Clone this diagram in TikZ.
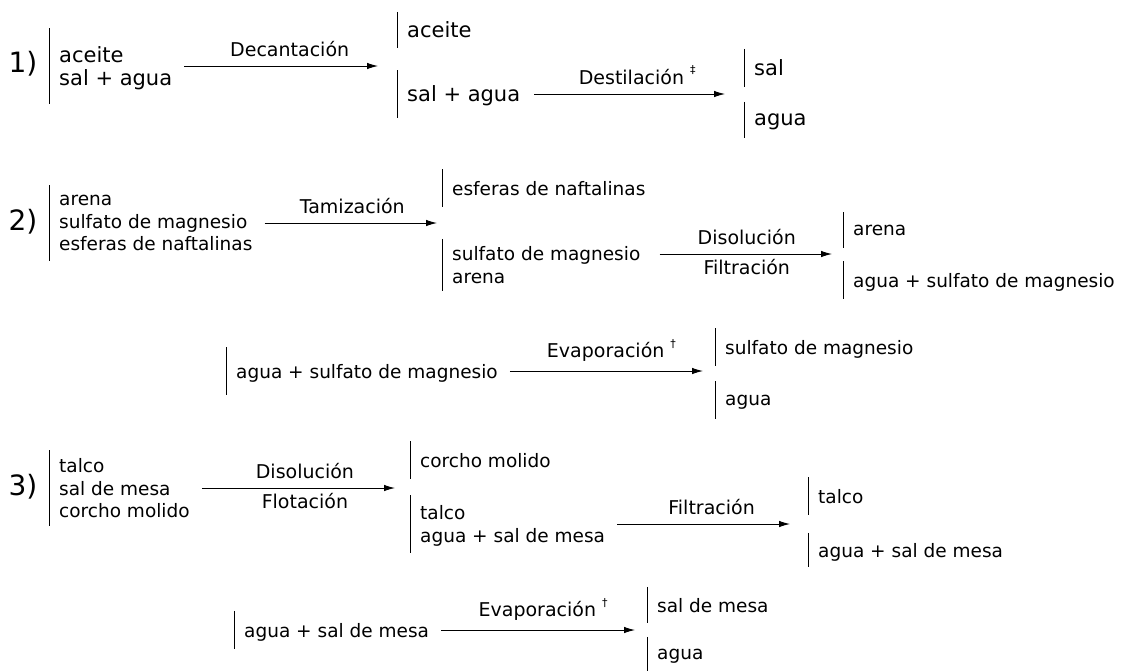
\documentclass[tikz,border=0pt]{standalone}
\usepackage{fontspec}
\setmainfont{DejaVu Sans}
\usetikzlibrary{arrows.meta}

\newcommand{\supmark}[1]{\raisebox{0.55em}{\fontsize{11}{11}\selectfont #1}}

\begin{document}
\begin{tikzpicture}[
		x=1pt,y=-1pt,
		bar/.style={draw,line width=1pt},
		mix/.style={anchor=west,align=left,inner xsep=10pt,inner ysep=0pt,text depth=0pt,
			font=\fontsize{18.5}{22.5}\selectfont,
			append after command={(\tikzlastnode.north west) edge[bar] (\tikzlastnode.south west)}},
		big/.style={font=\fontsize{21}{23}\selectfont},
		num/.style={font=\fontsize{28}{28}\selectfont},
		lbl/.style={font=\fontsize{19}{20}\selectfont,inner sep=2pt},
		up/.style={lbl,midway,above=7pt},
		down/.style={lbl,midway,below=3pt},
		arrow/.style={-{Latex[length=11pt,width=6.5pt]},line width=0.9pt,shorten <=2pt}
		]
		\useasboundingbox (0,0) rectangle (1124,670);
		% 1) aceite, sal y agua
		\node[num] (n1) at (23,64) {1)};
		\node[mix,big,minimum height=75pt] (m1) at (49,66) {aceite\\sal + agua};
		\node[mix,big,minimum height=36pt] (a1) at (397,30) {aceite};
		\node[mix,big,minimum height=47pt] (b1) at (397,94) {sal + agua};
		\node[mix,big,minimum height=38pt] (c1) at (744,68) {sal};
		\node[mix,big,minimum height=36pt] (d1) at (744,120) {agua};
		\draw[arrow,shorten >=19pt] (m1.east) -- (m1.east -| a1.west) node[up] {Decantación};
		\draw[arrow,shorten >=19pt,shorten <=4pt] (b1.east) -- (b1.east -| c1.west) node[up] {Destilación \supmark{‡}};
		% 2) arena, sulfato de magnesio, naftalina
		\node[num] (n2) at (23,222) {2)};
		\node[mix,minimum height=75pt] (m2) at (49,223) {arena\\sulfato de magnesio\\esferas de naftalinas};
		\node[mix,minimum height=37pt] (a2) at (442,188) {esferas de naftalinas};
		\node[mix,minimum height=52pt] (b2) at (442,265) {sulfato de magnesio\\arena};
		\node[mix,minimum height=35pt] (c2) at (843,230) {arena};
		\node[mix,minimum height=37pt] (d2) at (843,280) {agua + sulfato de magnesio};
		\draw[arrow,shorten >=5pt] (m2.east) -- (m2.east -| a2.west) node[up] {Tamización};
		\draw[arrow,shorten >=11pt,shorten <=9pt] ([yshift=11pt]b2.east) -- ([yshift=11pt]b2.east -| c2.west)
			node[up] {Disolución} node[down] {Filtración};
		\node[mix,minimum height=47pt] (e2) at (226,371) {agua + sulfato de magnesio};
		\node[mix,minimum height=37pt] (f2) at (715,347) {sulfato de magnesio};
		\node[mix,minimum height=37pt] (g2) at (715,400) {agua};
		\draw[arrow,shorten >=12pt] (e2.east) -- (e2.east -| f2.west) node[up] {Evaporación \supmark{†}};
		% 3) talco, sal de mesa, corcho
		\node[num] (n3) at (23,487) {3)};
		\node[mix,minimum height=75pt] (m3) at (49,488) {talco\\sal de mesa\\corcho molido};
		\node[mix,minimum height=37pt] (a3) at (410,460) {corcho molido};
		\node[mix,minimum height=57pt] (b3) at (410,524) {talco\\agua + sal de mesa};
		\node[mix,minimum height=37pt] (c3) at (808,496) {talco};
		\node[mix,minimum height=34pt] (d3) at (808,550) {agua + sal de mesa};
		\draw[arrow,shorten >=15pt] (m3.east) -- (m3.east -| a3.west)
			node[up] {Disolución} node[down] {Flotación};
		\draw[arrow,shorten >=18pt] (b3.east) -- (b3.east -| c3.west) node[up] {Filtración};
		\node[mix,minimum height=38pt] (e3) at (234,630) {agua + sal de mesa};
		\node[mix,minimum height=36pt] (f3) at (647,605) {sal de mesa};
		\node[mix,minimum height=34pt] (g3) at (647,654) {agua};
		\draw[arrow,shorten >=12pt] (e3.east) -- (e3.east -| f3.west) node[up] {Evaporación \supmark{†}};
	\end{tikzpicture}
\end{document}
